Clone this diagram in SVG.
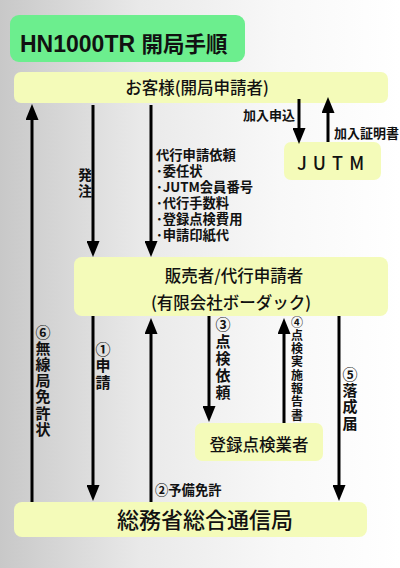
<svg xmlns="http://www.w3.org/2000/svg" width="400" height="568" viewBox="0 0 400 568">
<defs>
<linearGradient id="bg" x1="0" y1="0" x2="1" y2="0">
<stop offset="0" stop-color="#c8c8c8"/>
<stop offset="0.35" stop-color="#e9e9e9"/>
<stop offset="0.7" stop-color="#f8f8f8"/>
<stop offset="1" stop-color="#ffffff"/>
</linearGradient>
<marker id="ah" markerUnits="userSpaceOnUse" markerWidth="16" markerHeight="13" viewBox="0 0 16 13" refX="1" refY="6.5" orient="auto">
<path d="M0,0 L16,6.5 L0,13 z" fill="#000"/>
</marker>
<style>
.box{fill:#f4fbb9;}
.bt{font-family:"Noto Sans CJK JP","Noto Sans",sans-serif;fill:#111;text-anchor:middle;dominant-baseline:central;font-weight:500;}
.lb{font-family:"Noto Sans CJK JP","Noto Sans",sans-serif;fill:#111;font-weight:bold;}
.v{writing-mode:vertical-rl;text-orientation:upright;}
.ar{stroke:#000;stroke-width:3;fill:none;marker-end:url(#ah);}
</style>
</defs>
<rect x="0" y="0" width="400" height="568" fill="url(#bg)"/>

<g id="title">
<rect x="10" y="15" width="235" height="47" rx="9" fill="#6cee8e"/>
<text x="20" y="52" font-family="'Liberation Sans','Noto Sans CJK JP',sans-serif" font-weight="bold" font-size="23" fill="#111">HN1000TR <tspan font-family="'Noto Sans CJK JP',sans-serif" font-size="21.5">開局手順</tspan></text>
</g>

<g id="customer">
<rect class="box" x="14" y="72" width="374" height="31" rx="7"/>
<text class="bt" x="197" y="87" font-size="16.5">お客様(開局申請者)</text>
</g>

<g id="jutm">
<rect class="box" x="284" y="142" width="97" height="38" rx="7"/>
<text class="bt" x="331" y="162" font-size="18" font-weight="normal" letter-spacing="1">J U T M</text>
</g>

<g id="seller">
<rect class="box" x="74" y="257" width="314" height="59" rx="8"/>
<text class="bt" x="234" y="275" font-size="16.5">販売者/代行申請者</text>
<text class="bt" x="231" y="302" font-size="16.5">(有限会社ボーダック)</text>
</g>

<g id="checker">
<rect class="box" x="195" y="423" width="128" height="38" rx="7"/>
<text class="bt" x="259" y="444" font-size="16.5">登録点検業者</text>
</g>

<g id="bureau">
<rect class="box" x="14" y="502" width="353" height="35" rx="8"/>
<text class="bt" x="205" y="518" font-size="22">総務省総合通信局</text>
</g>

<g id="connectors">
<line class="ar" x1="32" y1="502" x2="32" y2="119"/>
<line class="ar" x1="93" y1="105" x2="93" y2="242"/>
<line class="ar" x1="151" y1="105" x2="151" y2="242"/>
<line class="ar" x1="299" y1="99" x2="299" y2="129"/>
<line class="ar" x1="328" y1="142" x2="328" y2="112"/>
<line class="ar" x1="93" y1="316" x2="93" y2="486"/>
<line class="ar" x1="151" y1="502" x2="151" y2="333"/>
<line class="ar" x1="209" y1="316" x2="209" y2="407"/>
<line class="ar" x1="284" y1="423" x2="284" y2="333"/>
<line class="ar" x1="339" y1="316" x2="339" y2="486"/>
</g>

<g id="labels">
<text class="lb" x="243" y="120" font-size="13">加入申込</text>
<text class="lb" x="334" y="138" font-size="13">加入証明書</text>
<text class="lb v" x="85" y="168" font-size="14" letter-spacing="2">発注</text>
<text class="lb" font-size="13.3"><tspan x="156" y="160">代行申請依頼</tspan><tspan x="156" y="176">･委任状</tspan><tspan x="156" y="192">･JUTM会員番号</tspan><tspan x="156" y="208">･代行手数料</tspan><tspan x="156" y="224">･登録点検費用</tspan><tspan x="156" y="240">･申請印紙代</tspan></text>
<text class="lb v" x="43" y="324.5" font-size="15" letter-spacing="1.2">⑥無線局免許状</text>
<text class="lb v" x="103" y="341.5" font-size="15" letter-spacing="1.5">①申請</text>
<text class="lb v" x="223" y="316.5" font-size="15" letter-spacing="2.2">③点検依頼</text>
<text class="lb v" x="297" y="316" font-size="12" letter-spacing="1.3">④点検実施報告書</text>
<text class="lb v" x="350" y="366.5" font-size="15" letter-spacing="1.3">⑤落成届</text>
<text class="lb" x="155" y="495" font-size="13.3">②予備免許</text>
</g>
</svg>
